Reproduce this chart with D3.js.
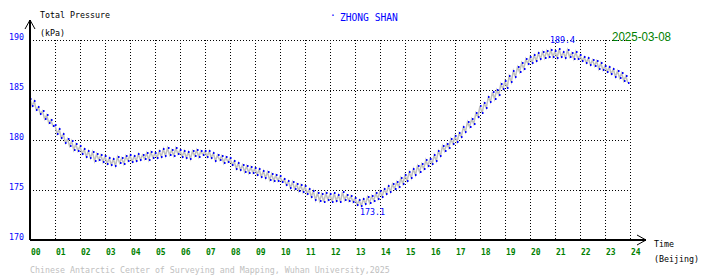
<!DOCTYPE html>
<html>
<head>
<meta charset="utf-8">
<script src="https://cdn.jsdelivr.net/npm/d3@7"></script>
<style>
  body { margin: 0; background: white; }
  text { font-family: "DejaVu Sans Mono", monospace; }
</style>
</head>
<body>
<div id="chart"></div>
<script>
// pressure readings, one every 5 minutes from 00:00 (kPa)
var pressure = [
  184.1, 183.4, 183.9, 183.0, 183.3, 182.6, 182.9, 182.1, 182.5, 181.7, 182.0, 181.4,
  181.5, 180.6, 181.1, 180.2, 180.6, 179.7, 180.1, 179.4, 179.9, 179.0, 179.6, 178.9,
  179.4, 178.6, 179.1, 178.3, 178.9, 178.2, 178.8, 177.9, 178.6, 178.0, 178.5, 177.8,
  178.4, 177.6, 178.2, 177.5, 178.1, 177.4, 178.3, 177.7, 178.2, 177.6, 178.4, 177.9,
  178.5, 177.8, 178.4, 177.9, 178.6, 178.0, 178.5, 178.1, 178.7, 178.0, 178.8, 178.2,
  178.7, 178.2, 178.9, 178.3, 179.1, 178.4, 179.2, 178.5, 179.0, 178.4, 179.2, 178.6,
  179.0, 178.3, 178.9, 178.2, 178.8, 178.1, 178.9, 178.4, 179.0, 178.3, 178.9, 178.5,
  178.9, 178.3, 178.9, 178.2, 178.7, 177.9, 178.5, 178.0, 178.4, 177.7, 178.3, 177.8,
  178.2, 177.5, 177.9, 177.1, 177.7, 177.0, 177.5, 176.8, 177.4, 176.7, 177.3, 176.7,
  177.2, 176.5, 177.1, 176.3, 176.9, 176.2, 176.8, 176.0, 176.6, 175.9, 176.5, 175.9,
  176.4, 175.8, 176.1, 175.5, 175.9, 175.2, 175.8, 175.1, 175.6, 174.9, 175.5, 174.8,
  175.4, 174.6, 175.1, 174.3, 174.9, 174.0, 174.7, 173.9, 174.6, 173.8, 174.7, 174.0,
  174.6, 173.8, 174.7, 173.9, 174.5, 173.8, 174.8, 174.0, 174.5, 173.9, 174.4, 173.8,
  174.2, 173.5, 174.0, 173.4, 174.1, 173.6, 174.3, 173.7, 174.4, 173.9, 174.7, 174.1,
  174.9, 174.3, 175.1, 174.6, 175.4, 174.8, 175.6, 175.1, 175.8, 175.3, 176.2, 175.6,
  176.5, 175.9, 176.8, 176.2, 177.1, 176.5, 177.4, 176.8, 177.6, 177.1, 178.0, 177.4,
  178.1, 177.6, 178.5, 177.9, 178.9, 178.4, 179.4, 178.9, 179.6, 179.2, 180.1, 179.6,
  180.4, 179.8, 180.7, 180.3, 181.3, 180.8, 181.8, 181.3, 182.1, 181.6, 182.7, 182.3,
  183.4, 182.7, 183.7, 183.2, 184.3, 183.8, 184.8, 184.1, 185.0, 184.5, 185.6, 185.1,
  185.9, 185.2, 186.4, 185.8, 186.9, 186.3, 187.3, 186.8, 187.7, 187.1, 188.1, 187.6,
  188.3, 187.7, 188.5, 187.9, 188.7, 188.1, 188.8, 188.2, 188.9, 188.3, 189.0, 188.3,
  188.9, 188.2, 189.1, 188.3, 188.8, 188.2, 189.0, 188.3, 188.7, 188.1, 188.8, 188.1,
  188.5, 187.9, 188.3, 187.7, 188.2, 187.5, 188.0, 187.4, 187.9, 187.1, 187.7, 187.0,
  187.4, 186.8, 187.3, 186.6, 187.1, 186.3, 186.9, 186.2, 186.7, 185.9, 186.4, 185.7
];
var stepMinutes = 5;
var hourTicks = d3.range(0, 25);
var hourLabels = hourTicks.map(h => (h < 10 ? "0" : "") + h);
var yTicks = [170, 175, 180, 185, 190];
// extremes marked on the plot: [hour, value]
var peakMark = [21.3, 189.4];
var lowMark = [13.7, 173.1];
var station = "ZHONG SHAN";
var dateLabel = "2025-03-08";
var credit = "Chinese Antarctic Center of Surveying and Mapping, Wuhan University,2025";

var width = 710, height = 278;
var svg = d3.select("#chart").append("svg")
    .attr("width", width)
    .attr("height", height);

var x = d3.scaleLinear().domain([0, 24]).range([30, 630]);
var y = d3.scaleLinear().domain([170, 190]).range([240, 40]);

// grid
svg.append("g").selectAll("line")
    .data(hourTicks.slice(1))
    .enter().append("line")
    .attr("x1", d => x(d) + 0.5).attr("x2", d => x(d) + 0.5)
    .attr("y1", y(190)).attr("y2", y(170))
    .attr("stroke", "black")
    .attr("stroke-dasharray", "1,2");

svg.append("g").selectAll("line")
    .data(yTicks.slice(1))
    .enter().append("line")
    .attr("x1", x(0)).attr("x2", x(24))
    .attr("y1", d => y(d) + 0.5).attr("y2", d => y(d) + 0.5)
    .attr("stroke", "black")
    .attr("stroke-dasharray", "1,2");

// data: grey trace with blue sample dots
var pts = pressure.map((v, i) => [i * stepMinutes / 60, v]);
var line = d3.line().x(d => x(d[0])).y(d => y(d[1]));
svg.append("path")
    .datum(pts)
    .attr("d", line)
    .attr("fill", "none")
    .attr("stroke", "#c0c0c0")
    .attr("stroke-width", 1.5);

svg.append("g").selectAll("rect")
    .data(pts)
    .enter().append("rect")
    .attr("x", d => Math.round(x(d[0])))
    .attr("y", d => Math.round(y(d[1])) - 1)
    .attr("width", 1.5)
    .attr("height", 2)
    .attr("fill", "blue");

// axes
svg.append("line")
    .attr("x1", x(0)).attr("x2", x(0))
    .attr("y1", y(170)).attr("y2", 20)
    .attr("stroke", "black").attr("stroke-width", 2);
svg.append("path")
    .attr("d", "M25,29L30,20L35,29")
    .attr("fill", "none").attr("stroke", "black");
svg.append("line")
    .attr("x1", x(0)).attr("x2", 646)
    .attr("y1", y(170)).attr("y2", y(170))
    .attr("stroke", "black").attr("stroke-width", 2);
svg.append("path")
    .attr("d", "M637,235L646,240L637,245")
    .attr("fill", "none").attr("stroke", "black");

// tick labels
svg.append("g").selectAll("text")
    .data(yTicks)
    .enter().append("text")
    .attr("x", 24)
    .attr("y", d => y(d))
    .attr("text-anchor", "end")
    .attr("font-size", "8.3px")
    .attr("fill", "blue")
    .text(d => d);

svg.append("g").selectAll("text")
    .data(hourTicks)
    .enter().append("text")
    .attr("x", d => x(d) + 1)
    .attr("y", 255)
    .attr("font-size", "8px")
    .attr("font-weight", "bold")
    .attr("fill", "green")
    .text((d, i) => hourLabels[i]);

// titles
function label(txt, tx, ty, size, color, anchor) {
    return svg.append("text")
        .attr("x", tx).attr("y", ty)
        .attr("font-size", size)
        .attr("fill", color)
        .attr("text-anchor", anchor || "start")
        .text(txt);
}
label("Total Pressure", 40, 18, "8.3px", "black");
label("(kPa)", 40, 36, "8.3px", "black");
label("Time", 654, 247, "8.3px", "black");
label("(Beijing)", 654, 262, "8.3px", "black");
label("·", 330, 19, "9.6px", "blue");
label(station, 340, 21, "9.6px", "blue");
label(dateLabel, 612, 41, "12px", "green")
    .style("font-family", "'Liberation Sans', Arial, sans-serif")
    .attr("textLength", 59)
    .attr("lengthAdjust", "spacingAndGlyphs");
label(credit, 30, 273, "8.3px", "#c0c0c0");

label(peakMark[1].toFixed(1), x(peakMark[0]), y(peakMark[1]) - 3, "8.3px", "blue", "middle");
label(lowMark[1].toFixed(1), x(lowMark[0]), y(lowMark[1]) + 6, "8.3px", "blue", "middle");
</script>
</body>
</html>
